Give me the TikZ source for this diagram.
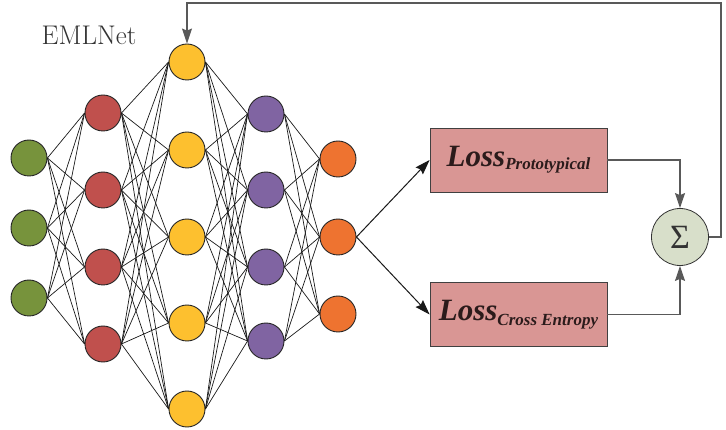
\documentclass[tikz,border=0pt]{standalone}
\usepackage{fontspec}
\newfontfamily\lossfont{Liberation Serif}
\usetikzlibrary{arrows.meta}
\definecolor{cgreen}{HTML}{77933C}
\definecolor{cred}{HTML}{C0504D}
\definecolor{cyellow}{HTML}{FDC02F}
\definecolor{cpurple}{HTML}{8064A2}
\definecolor{corange}{HTML}{EE7330}
\definecolor{cbox}{HTML}{D99694}
\definecolor{csig}{HTML}{D8DFCA}
\definecolor{cfb}{HTML}{595959}
\definecolor{ctext}{HTML}{2B1B1B}
\tikzset{
  neuron/.style={circle, draw=black!85, line width=0.9pt, minimum size=36pt, inner sep=0pt},
  edge/.style={line width=0.7pt, black!90},
  lossbox/.style={draw=black!75, line width=0.8pt, fill=cbox, minimum width=177pt, minimum height=64pt, inner sep=0pt},
  sigma/.style={circle, draw=black!80, line width=0.8pt, fill=csig, minimum size=57pt, inner sep=0pt},
  fb/.style={draw=cfb, line width=1.2pt},
  tip/.style={-{Stealth[length=15pt,width=10pt,inset=2pt]}}
}
\begin{document}
\begin{tikzpicture}[x=1pt,y=-1pt]
\useasboundingbox (0,0) rectangle (726,430);
\foreach \y [count=\i] in {158,228,298} \coordinate (A\i) at (29,\y);
\foreach \y [count=\i] in {113,190,267,344} \coordinate (B\i) at (103,\y);
\foreach \y [count=\i] in {62,150,237,323,409} \coordinate (C\i) at (187,\y);
\foreach \y [count=\i] in {114,190,267,341} \coordinate (D\i) at (266,\y);
\foreach \y [count=\i] in {159,237,314} \coordinate (E\i) at (338,\y);
% layers
\foreach \i in {1,...,3} \node[neuron, fill=cgreen] (a\i) at (A\i) {};
\foreach \i in {1,...,4} \node[neuron, fill=cred] (b\i) at (B\i) {};
\foreach \i in {1,...,5} \node[neuron, fill=cyellow] (c\i) at (C\i) {};
\foreach \i in {1,...,4} \node[neuron, fill=cpurple] (d\i) at (D\i) {};
\foreach \i in {1,...,3} \node[neuron, fill=corange] (e\i) at (E\i) {};
% edges
\foreach \i in {1,...,3} \foreach \j in {1,...,4} \draw[edge] (a\i.east) -- (b\j.west);
\foreach \i in {1,...,4} \foreach \j in {1,...,5} \draw[edge] (b\i.east) -- (c\j.west);
\foreach \i in {1,...,5} \foreach \j in {1,...,4} \draw[edge] (c\i.east) -- (d\j.west);
\foreach \i in {1,...,4} \foreach \j in {1,...,3} \draw[edge] (d\i.east) -- (e\j.west);
% label
\node[font=\fontsize{27}{30}\selectfont, text=black!80, anchor=base] (lbl) at (89,45) {EMLNet};
% loss boxes
\node[lossbox] (p) at (518.5,160) {\lossfont\bfseries\itshape\color{ctext}\fontsize{31}{34}\selectfont Loss\raisebox{-3pt}{\fontsize{17}{20}\selectfont Prototypical}};
\node[lossbox] (x) at (518.5,314.5) {\lossfont\bfseries\itshape\color{ctext}\fontsize{31}{34}\selectfont Loss\raisebox{-5pt}{\fontsize{17}{20}\selectfont Cross Entropy}};
\node[sigma] (s) at (680,237) {\lossfont\fontsize{34}{36}\selectfont\color{black!80}Σ};
% arrows from output
\draw[line width=1pt, black!90, tip] (e2.east) -- (p.west);
\draw[line width=1pt, black!90, tip] (e2.east) -- (x.west);
% to sigma
\draw[fb, tip] (p.east) -| (s.north);
\draw[fb, tip] (x.east) -| (s.south);
% feedback
\coordinate (r1) at (721,237);
\coordinate (r2) at (721,3);
\coordinate (r3) at (187,3);
\draw[fb, tip] (s.east) -- (r1) -- (r2) -- (r3) -- (c1.north);
\end{tikzpicture}
\end{document}
